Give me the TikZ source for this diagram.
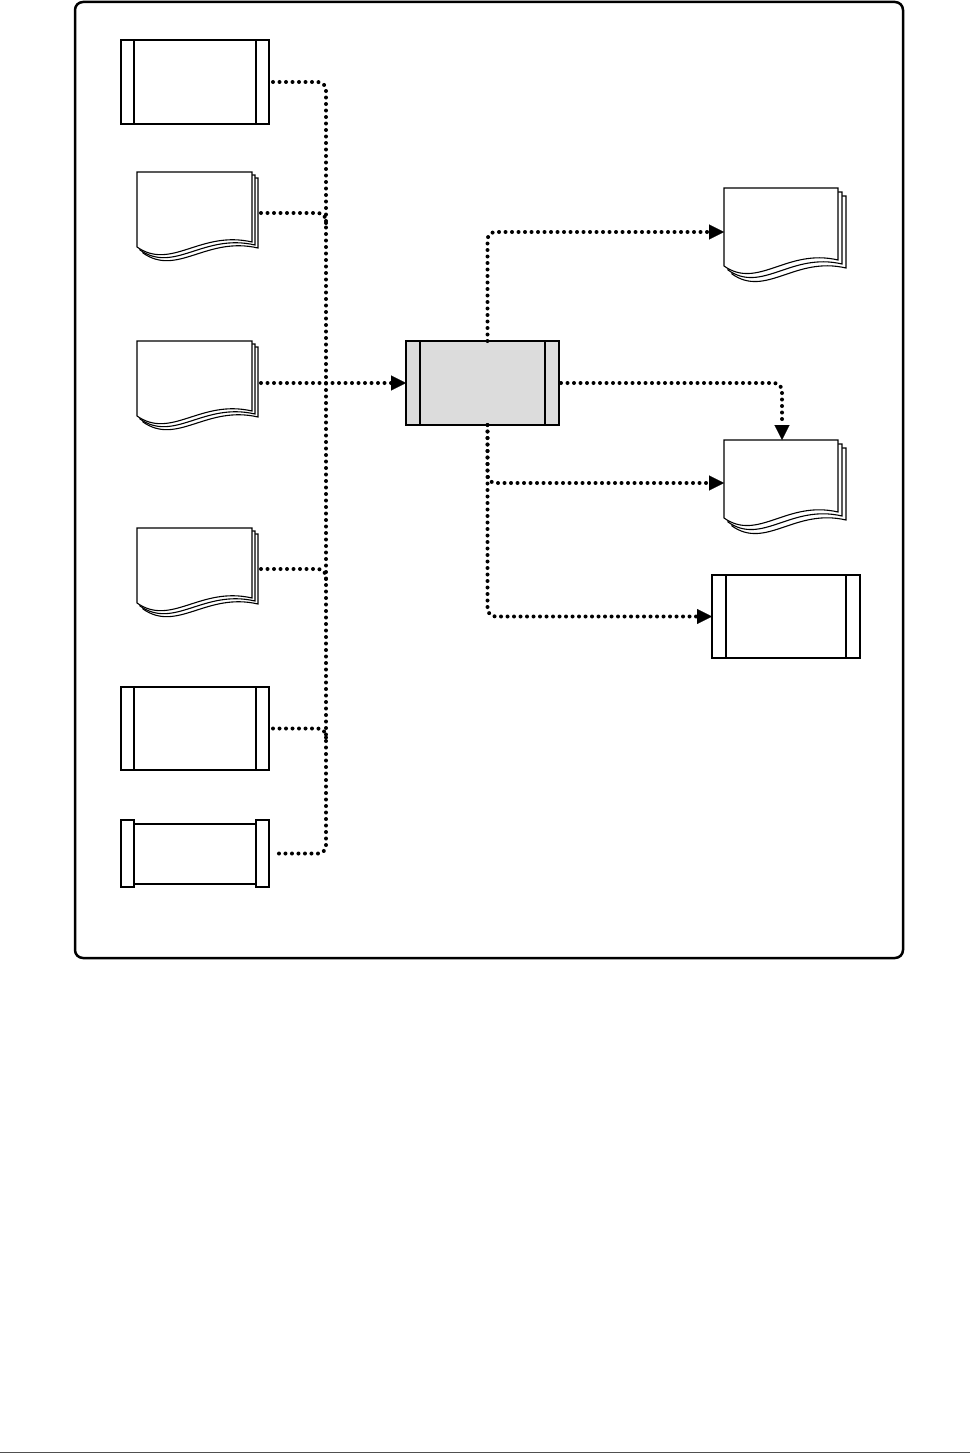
\documentclass[tikz,border=0pt]{standalone}
\usetikzlibrary{arrows.meta,calc}
\definecolor{procgray}{RGB}{220,220,220}
\definecolor{rulegray}{RGB}{80,80,80}
\newcommand\predefbox[2]{%
  \draw[line width=1.1pt] ($(#1.north west)+(#2,0)$) -- ($(#1.south west)+(#2,0)$);
  \draw[line width=1.1pt] ($(#1.north east)+(-#2,0)$) -- ($(#1.south east)+(-#2,0)$);
  \draw[line width=2pt] (#1.north east) -- (#1.south east) -- (#1.south west);
}
\newcommand\mdoc[5]{% name, width, left height, right height, page offset
  \foreach \k in {2,1,0}{%
    \begin{scope}[shift={($(#1.north west)+({\k*#5},{\k*#5})$)}]
      \draw[line width=1.1pt, fill=white] (0,0) -- (#2,0) -- (#2,#4)
        .. controls ({#2*0.55},{#4-12}) and ({#2*0.3},{#3+24}) .. (0,#3) -- cycle;
    \end{scope}}%
}
\begin{document}
\begin{tikzpicture}[x=1pt,y=-1pt,
  box/.style={draw, line width=1.2pt, minimum width=148pt, minimum height=84pt,
    inner sep=0pt, outer sep=0pt, fill=white, anchor=north west},
  ghost/.style={draw=none, inner sep=0pt, outer sep=0pt, anchor=north west},
  conn/.style={line width=4pt, line cap=round, dash pattern=on 0pt off 6.5pt,
    rounded corners=8pt},
  arr/.style={-{Triangle[length=15pt,width=15pt,line width=0.1pt]}}
]
\useasboundingbox (0,0) rectangle (970,1453);
% frame
\draw[line width=2.5pt, rounded corners=8pt] (75,2) rectangle (903,958);
\draw[line width=1pt, rulegray] (0,1452) -- (970,1452);

% left inputs
\node[box] (b1) at (121,40) {};
\predefbox{b1}{13}
\node[ghost, minimum width=121pt, minimum height=82pt] (d1) at (137,172) {};
\mdoc{d1}{115}{75}{70}{3}
\node[ghost, minimum width=121pt, minimum height=84pt] (d2) at (137,341) {};
\mdoc{d2}{115}{75}{70}{3}
\node[ghost, minimum width=121pt, minimum height=82pt] (d3) at (137,528) {};
\mdoc{d3}{115}{75}{70}{3}
\node[box, minimum height=83pt] (b5) at (121,687) {};
\predefbox{b5}{13}
\node[ghost, minimum width=148pt, minimum height=67pt] (b6) at (121,820) {};
\draw[line width=1.2pt] (b6.north west) rectangle ($(b6.south west)+(13,0)$);
\draw[line width=1.2pt] ($(b6.north east)+(-13,0)$) rectangle (b6.south east);
\draw[line width=2pt] ($(b6.north west)+(13,4)$) -- ($(b6.north east)+(-13,4)$);
\draw[line width=1.2pt] ($(b6.south west)+(13,-3)$) -- ($(b6.south east)+(-13,-3)$);

% center process
\node[box, fill=procgray, minimum width=153pt, minimum height=84pt] (c) at (406,341) {};
\predefbox{c}{14}

% right outputs
\node[ghost, minimum width=122pt, minimum height=88pt] (o1) at (724,188) {};
\mdoc{o1}{114}{78}{72}{4}
\node[ghost, minimum width=122pt, minimum height=86pt] (o2) at (724,440) {};
\mdoc{o2}{114}{78}{72}{4}
\node[box, minimum height=83pt] (p3) at (712,575) {};
\predefbox{p3}{14}

% input bus
\draw[conn] ([xshift=4pt]b1.east) -- (326,82) -- (326,853.5) -- ([xshift=4pt]b6.east);
\draw[conn] ([xshift=3pt]d1.east) -- (326,213) -- (326,224);
\draw[conn] ([xshift=3pt]d3.east) -- (326,569) -- (326,580);
\draw[conn] ([xshift=4pt]b5.east) -- (326,728.5) -- (326,740);
\draw[conn, arr] ([xshift=3pt]d2.east) -- (d2.east -| c.west);

% outputs
\draw[conn, arr] ([xshift=5pt]c.north) |- (o1.west);
\draw[conn, arr] ([xshift=2pt]c.east) -| ([xshift=-3pt]o2.north);
\draw[conn, arr] ([xshift=5pt]c.south) |- (o2.west);
\draw[conn, arr] ([xshift=5pt]c.south) |- (p3.west);
\end{tikzpicture}
\end{document}
